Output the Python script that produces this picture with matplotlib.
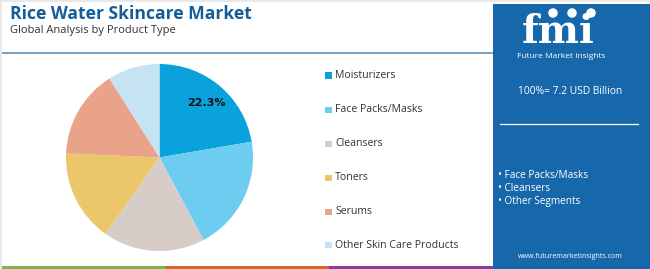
import matplotlib
matplotlib.use("Agg")
import matplotlib.pyplot as plt
from matplotlib.patches import Rectangle, Ellipse
from matplotlib.lines import Line2D
import numpy as np

categories = ["Moisturizers", "Face Packs/Masks", "Cleansers", "Toners", "Serums",
              "Other Skin Care Products"]
shares = [22.3, 19.9, 17.6, 15.9, 15.3, 9.0]
colors = ["#0aa2dc", "#6ccdf0", "#d8ccc8", "#ebc66b", "#e9a389", "#c6e3f3"]
shown_label = "22.3%"
title = "Rice Water Skincare Market"
subtitle = "Global Analysis by Product Type"
total_text = "100%= 7.2 USD Billion"
bullets = ["Face Packs/Masks", "Cleansers", "Other Segments"]
url = "www.futuremarketinsights.com"

W, H = 650, 269
fig = plt.figure(figsize=(W / 100, H / 100), dpi=100)
fig.patch.set_facecolor("white")
FONT = "Open Sans"

def fx(x):
    return x / W

def fy(y):
    return 1 - y / H

# outer faint border
fig.patches.append(Rectangle((0, 0), 1, 1, transform=fig.transFigure, fill=False,
                             edgecolor="#e6e8ea", linewidth=2))

# title and subtitle
fig.text(fx(10), fy(14), title, fontsize=12.6, fontweight="bold", color="#125d9a",
         family=FONT, va="center", ha="left")
fig.text(fx(10), fy(31), subtitle, fontsize=8.0, color="#333333", family=FONT,
         va="center", ha="left")

# line under title
fig.lines.append(Line2D([fx(3), fx(492)], [fy(53), fy(53)], transform=fig.transFigure,
                        color="#6d98bb", linewidth=1.3))

# bottom strips
for x0, x1, c in [(2, 166, "#7ab648"), (166, 329, "#d9622b"), (329, 493, "#8a3d9b")]:
    fig.patches.append(Rectangle((fx(x0), 0), fx(x1 - x0), 3.2 / H,
                                 transform=fig.transFigure, color=c, linewidth=0))

# pie
cx, cy, r = 159.5, 157.5, 93.5
ax = fig.add_axes([fx(cx - r), fy(cy + r), fx(2 * r), 2 * r / H])
wedges, _ = ax.pie(shares, colors=colors, startangle=90, counterclock=False,
                   wedgeprops=dict(linewidth=0))
ax.set_xlim(-1, 1)
ax.set_ylim(-1, 1)
ax.set_aspect("equal")
ax.axis("off")
mid = 90 - shares[0] / 100 * 360 / 2
ax.text(0.78 * np.cos(np.radians(mid)), 0.76 * np.sin(np.radians(mid)), shown_label,
        fontsize=8, fontweight="bold", color="#111111", ha="center", va="center",
        family="DejaVu Sans")

# legend
ys = [76, 110, 144, 178, 212, 245]
for cat, col, y in zip(categories, colors, ys):
    fig.patches.append(Rectangle((fx(325), fy(y + 3)), fx(6.5), 6.5 / H,
                                 transform=fig.transFigure, color=col, linewidth=0))
    fig.text(fx(335), fy(y), cat, fontsize=7.6, color="#333333", family=FONT,
             va="center", ha="left")

# blue panel
px0, py0 = 493, 4
panel_col = "#1767ab"
fig.patches.append(Rectangle((fx(px0), 0), fx(W - px0), 1 - py0 / H,
                             transform=fig.transFigure, color=panel_col, linewidth=0))

# fmi logo
fig.text(fx(558), fy(43), "fmi", fontsize=28, fontweight="bold", color="white",
         family="DejaVu Serif", ha="center", va="baseline")
for yy in np.arange(19, 45, 2.6):
    fig.lines.append(Line2D([fx(508), fx(610)], [fy(yy), fy(yy)], transform=fig.transFigure,
                            color=panel_col, linewidth=0.55))
for xx in [553, 572, 591]:
    fig.patches.append(Ellipse((fx(xx), fy(13)), 9.5 / W, 9.5 / H, transform=fig.transFigure,
                               facecolor="white", edgecolor="none"))
fig.text(fx(561), fy(56.5), "Future Market Insights", fontsize=6.0, color="white",
         family=FONT, ha="center", va="center")

fig.text(fx(570), fy(91), total_text, fontsize=7.4, color="white", family=FONT,
         ha="center", va="center")
fig.lines.append(Line2D([fx(500), fx(638)], [fy(124), fy(124)], transform=fig.transFigure,
                        color="white", linewidth=0.9))
for b, y in zip(bullets, [175, 188.5, 201.5]):
    fig.text(fx(498), fy(y), "\u2022 " + b, fontsize=7.2, color="white", family=FONT,
             ha="left", va="center")
fig.text(fx(570), fy(257), url, fontsize=5.1, color="white", family=FONT,
         ha="center", va="center")

fig.savefig("out.png", dpi=100, facecolor=fig.get_facecolor())
